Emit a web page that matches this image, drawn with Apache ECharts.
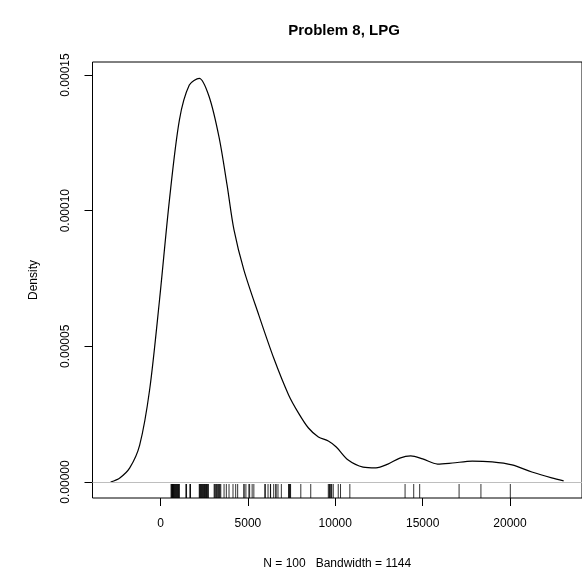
<!DOCTYPE html>
<html>
<head>
<meta charset="utf-8">
<script src="https://cdn.jsdelivr.net/npm/echarts@6/dist/echarts.min.js"></script>
<style>html,body{margin:0;padding:0;background:#fff}#c{width:582px;height:580px}</style>
</head>
<body>
<div id="c"></div>
<script>
// Density curve (x, density)
const curveX = [-2855, -2330, -1761, -1193, -625, -57, 511, 1080, 1648, 2216, 2784, 3352, 3807, 4205, 4773, 5625, 6477, 7330, 7898, 8466, 9034, 9602, 10057, 10739, 11591, 12330, 13011, 13693, 14318, 15000, 15852, 16705, 17841, 18977, 20114, 21250, 22386, 23068];
const curveY = [0.0000000, 0.0000015, 0.0000052, 0.0000136, 0.0000339, 0.0000671, 0.0001040, 0.0001334, 0.0001463, 0.0001488, 0.0001420, 0.0001270, 0.0001095, 0.0000929, 0.0000781, 0.0000615, 0.0000457, 0.0000321, 0.0000254, 0.0000199, 0.0000166, 0.0000151, 0.0000129, 0.0000081, 0.0000055, 0.0000052, 0.0000066, 0.0000088, 0.0000096, 0.0000085, 0.0000066, 0.0000070, 0.0000077, 0.0000074, 0.0000063, 0.0000037, 0.0000015, 0.0000004];
// Rug: observed values (N = 100)
const rugValues = [608, 620, 653, 682, 700, 710, 739, 760, 795, 820, 852, 880, 909, 940, 966, 1000, 1023, 1050, 1080,
  1460, 1470, 1489, 1687, 1700, 1716,
  2216, 2240, 2273, 2300, 2330, 2360, 2386, 2420, 2443, 2480, 2500, 2530, 2557, 2590, 2614, 2640, 2670, 2700, 2744,
  3068, 3100, 3153, 3200, 3239, 3280, 3324, 3370, 3409, 3449,
  3636, 3767, 3920, 4148, 4301, 4415,
  4773, 4780, 4886, 5057, 5100, 5244, 5341,
  5966, 6000, 6153, 6290, 6300, 6477, 6600, 6608, 6722, 6915,
  7330, 7350, 7386, 7420, 7443,
  8028, 8597,
  9602, 9650, 9676, 9720, 9773, 9800, 9886, 10170,
  10301, 10835, 13994, 14489, 14830, 17085, 18335, 20017];
const xTicks = [0, 5000, 10000, 15000, 20000];
const yTicks = [0, 0.00005, 0.00010, 0.00015];
const titleText = 'Problem 8, LPG';
const xTitle = 'N = 100   Bandwidth = 1144';
const yTitle = 'Density';

const X_MIN = -3892, X_MAX = 24119, Y_MIN = -0.0000059, Y_MAX = 0.0001548;
const FONT = '"Liberation Sans", Arial, Helvetica, sans-serif';

const chart = echarts.init(document.getElementById('c'), null, {renderer: 'canvas'});
chart.setOption({
  animation: false,
  backgroundColor: '#fff',
  title: {
    text: titleText, left: 339, top: 18, textAlign: 'center',
    textStyle: {fontFamily: FONT, fontSize: 15, fontWeight: 'bold', color: '#000'}
  },
  grid: {left: 92.5, right: -3.5, top: 62, bottom: 82, show: true, borderColor: '#000', borderWidth: 1, backgroundColor: 'transparent', containLabel: false},
  xAxis: {
    type: 'value', min: X_MIN, max: X_MAX,
    name: xTitle, nameLocation: 'middle', nameGap: 60,
    nameTextStyle: {fontFamily: FONT, fontSize: 12, color: '#000'},
    axisLine: {show: false, onZero: false},
    splitLine: {show: false},
    axisTick: {show: true, length: 8, inside: false, customValues: xTicks, lineStyle: {color: '#000'}},
    axisLabel: {show: true, customValues: xTicks, margin: 20, fontFamily: FONT, fontSize: 12, color: '#000',
      formatter: v => String(v)}
  },
  yAxis: {
    type: 'value', min: Y_MIN, max: Y_MAX,
    name: yTitle, nameLocation: 'middle', nameGap: 53, nameRotate: 90,
    nameTextStyle: {fontFamily: FONT, fontSize: 12, color: '#000'},
    axisLine: {show: false, onZero: false},
    splitLine: {show: false},
    axisTick: {show: true, length: 8, customValues: yTicks, lineStyle: {color: '#000'}},
    axisLabel: {show: true, customValues: yTicks, rotate: 90, margin: 21, align: 'center', verticalAlign: 'bottom',
      fontFamily: FONT, fontSize: 12, color: '#000', formatter: v => v.toFixed(5)}
  },
  series: [
    {
      type: 'line', data: curveX.map((x, i) => [x, curveY[i]]),
      smooth: 0.3, showSymbol: false, symbol: 'none',
      lineStyle: {color: '#000', width: 1.2},
      markLine: {
        silent: true, symbol: ['none', 'none'], label: {show: false},
        lineStyle: {color: '#bebebe', width: 1, type: 'solid'},
        data: [{yAxis: 0}]
      },
      z: 3
    },
    {
      type: 'custom', data: rugValues.map(v => [v]),
      renderItem: function (params, api) {
        const p = api.coord([api.value(0), Y_MIN]);
        return {type: 'line', shape: {x1: p[0], y1: p[1], x2: p[0], y2: p[1] - 14},
          style: {stroke: '#000', lineWidth: 1, opacity: 0.8}};
      },
      z: 2
    }
  ]
});
</script>
</body>
</html>
